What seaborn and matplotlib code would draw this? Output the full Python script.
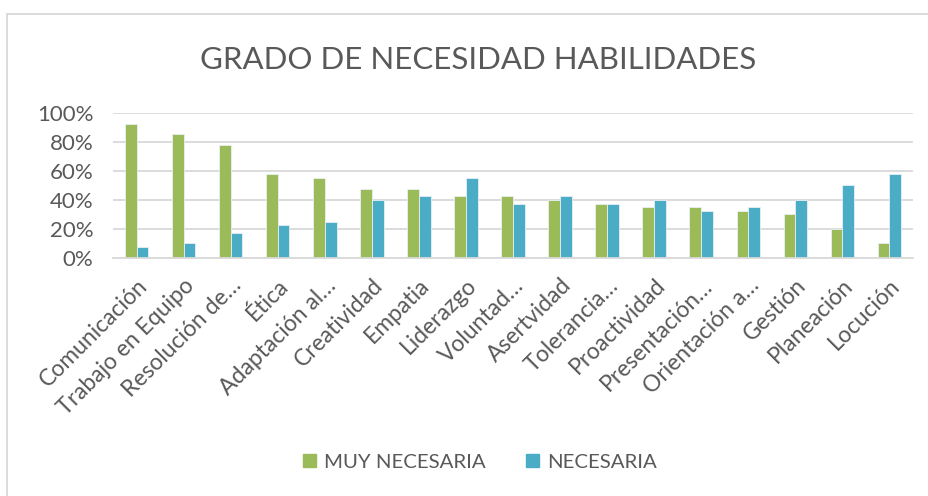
import matplotlib
matplotlib.use("Agg")
import matplotlib.pyplot as plt
import matplotlib.patches as mpatches
import seaborn as sns
import pandas as pd
from matplotlib.ticker import PercentFormatter

categories = ["Comunicación", "Trabajo en Equipo", "Resolución de…", "Ética",
              "Adaptación al…", "Creatividad", "Empatia", "Liderazgo",
              "Voluntad…", "Asertvidad", "Tolerancia…", "Proactividad",
              "Presentación…", "Orientación a…", "Gestión", "Planeación", "Locución"]
muy_necesaria = [0.925, 0.85, 0.775, 0.575, 0.55, 0.475, 0.475, 0.425,
                 0.425, 0.40, 0.375, 0.35, 0.35, 0.325, 0.30, 0.20, 0.10]
necesaria = [0.075, 0.10, 0.175, 0.225, 0.25, 0.40, 0.425, 0.55,
             0.375, 0.425, 0.375, 0.40, 0.325, 0.35, 0.40, 0.50, 0.575]
series = ["MUY NECESARIA", "NECESARIA"]
colors = ["#9BBB59", "#4BACC6"]

df = pd.DataFrame({
    "cat": categories * 2,
    "val": muy_necesaria + necesaria,
    "serie": [series[0]] * len(categories) + [series[1]] * len(categories),
})

sns.set_style("white")
plt.rcParams['font.family'] = ['Lato', 'DejaVu Sans']
txt = "#595959"

fig = plt.figure(figsize=(9.29, 4.96), dpi=100)
ax = fig.add_axes([113/929, 1-258/496, 800/929, (258-112.7)/496])

sns.barplot(data=df, x="cat", y="val", hue="serie", palette=colors,
            width=0.5, ax=ax, legend=False, edgecolor="#E8F0F4", linewidth=0.6,
            saturation=1)

ax.set_ylim(0, 1.0)
ax.set_xlim(-0.5, len(categories) - 0.5)
ax.yaxis.set_major_formatter(PercentFormatter(1.0, decimals=0))
ax.set_yticks([0, 0.2, 0.4, 0.6, 0.8, 1.0])
ax.yaxis.grid(True, color="#D9D9D9", linewidth=1.3)
ax.set_axisbelow(True)
for s in ["top", "right", "left"]:
    ax.spines[s].set_visible(False)
ax.spines["bottom"].set_color("#D9D9D9")
ax.spines["bottom"].set_linewidth(1.3)
ax.set_xlabel("")
ax.set_ylabel("")
ax.tick_params(axis="y", labelsize=16, colors=txt, length=0, pad=14)
ax.tick_params(axis="x", labelsize=16.5, colors=txt, length=0, pad=12)
plt.setp(ax.get_xticklabels(), rotation=45, ha="right", rotation_mode="anchor")

fig.text(478/929, 1-60/496, "GRADO DE NECESIDAD HABILIDADES", ha="center", va="center",
         fontsize=22.5, color=txt)

handles = [mpatches.Patch(color=c, label=s) for c, s in zip(colors, series)]
fig.legend(handles=handles, loc="center", bbox_to_anchor=(480/929, 1-462/496), ncol=2,
           frameon=False, fontsize=14.7, labelcolor=txt, handlelength=0.6, handleheight=0.6,
           columnspacing=2.0, handletextpad=0.4)

# chart border
border = mpatches.Rectangle((7/929, -0.05), 1.0, 1-14/496 + 0.05, transform=fig.transFigure,
                            fill=False, edgecolor="#D9D9D9", linewidth=1.3)
fig.patches.append(border)

fig.savefig("out.png", dpi=100)
